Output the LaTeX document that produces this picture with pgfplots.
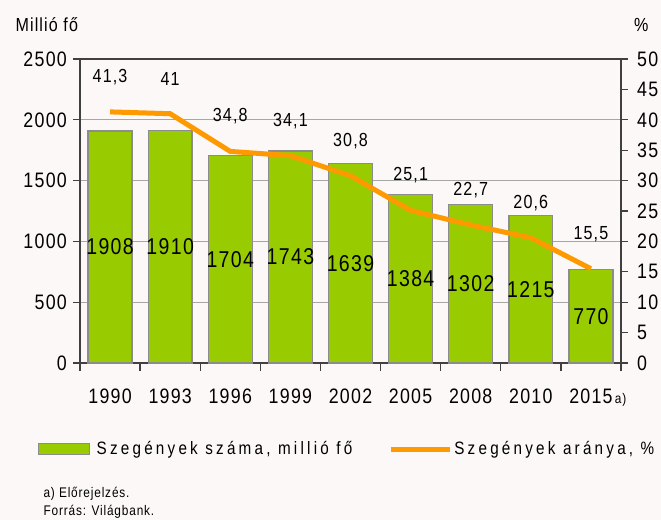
\documentclass[border=0pt]{standalone}
\usepackage{fontspec}
\setmainfont{Liberation Sans}[FakeStretch=0.85, LetterSpace=6]
\newfontfamily\legfont{Liberation Sans}[FakeStretch=0.85, LetterSpace=18]
\usepackage{pgfplots}
\pgfplotsset{compat=1.18}

\definecolor{bg}{HTML}{FBF8F7}
\definecolor{bargreen}{HTML}{99CC00}
\definecolor{lineorange}{HTML}{FF9900}
\definecolor{baredge}{HTML}{8C8C8C}
\definecolor{axisdark}{HTML}{404040}
\definecolor{gridgray}{HTML}{A6A6A6}

\pgfplotsset{
  common/.style={
    at={(0bp,0bp)}, anchor=south west,
    scale only axis, width=541bp, height=304bp,
    xmin=-0.5, xmax=8.5,
    tick align=outside,
    tick style={axisdark, line width=1.3bp},
    /pgf/number format/assume math mode=true,
    /pgf/number format/1000 sep={},
  },
}

\begin{document}
\begin{tikzpicture}
\fill[bg] (-80bp,-157bp) rectangle (581bp,363bp);
\useasboundingbox (-80bp,-157bp) rectangle (581bp,363bp);

% bars: number of poor people, million
\begin{axis}[common,
    ymin=0, ymax=2500,
    ytick={0,500,...,2500},
    xtick={0,...,8},
    xticklabels={1990,1993,1996,1999,2002,2005,2008,2010,{2015\rlap{\fontsize{14}{14}\selectfont\,a)}}},
    minor xtick={-0.5,0.5,...,8.5},
    major x tick style={draw=none},
    xtick pos=bottom, ytick pos=left,
    major tick length=7bp, minor tick length=8bp,
    ymajorgrids, grid style={gridgray, line width=1.3bp},
    axis line style={axisdark, line width=1.6bp},
    xticklabel style={font=\fontsize{21}{24}\selectfont, anchor=base, inner sep=0pt, yshift=-33.5bp},
    yticklabel style={font=\fontsize{21}{24}\selectfont, anchor=east, inner sep=0pt, xshift=-6bp},
]
\addplot[ybar, bar width=0.73, fill=bargreen, draw=baredge, line width=1.3bp,
    nodes near coords,
    visualization depends on=rawy \as \rawy,
    every node near coord/.append style={anchor=center, font=\fontsize{23}{26}\selectfont,
      shift={(axis direction cs:0,-\rawy/2)}},
] coordinates {
(0,1908) (1,1910) (2,1704) (3,1743) (4,1639) (5,1384) (6,1302) (7,1215) (8,770)
};
\end{axis}

% line: share of poor people, %
\begin{axis}[common,
    ymin=0, ymax=50,
    ytick={0,5,...,50},
    axis x line=none, axis y line*=right,
    ytick pos=right,
    major tick length=7bp,
    axis line style={axisdark, line width=1.6bp},
    yticklabel style={font=\fontsize{21}{24}\selectfont, anchor=west, inner sep=0pt, xshift=9bp},
    /pgf/number format/use comma,
    legend columns=2,
    legend style={at={(axis description cs:-0.078,-0.283)}, anchor=west,
      draw=none, fill=none, inner sep=0pt,
      font=\legfont\fontsize{18}{21}\selectfont,
      /tikz/every even column/.append style={column sep=34bp}},
]
\addlegendimage{legend image code/.code={
  \path[draw=none, fill=none] (0bp,-6bp) rectangle (56bp,6bp);
  \filldraw[fill=bargreen, draw=baredge, line width=1.3bp] (0bp,-5.5bp) rectangle (51bp,5.5bp);}}
\addlegendimage{legend image code/.code={
  \path[draw=none, fill=none] (0bp,-6bp) rectangle (59bp,6bp);
  \draw[lineorange, line width=5bp] (0bp,0bp) -- (59bp,0bp);}}
\addplot[lineorange, line width=5bp, no markers,
    nodes near coords,
    every node near coord/.append style={anchor=center, yshift=35bp,
      font=\fontsize{19}{22}\selectfont, text=black},
] coordinates {
(0,41.3) (1,41) (2,34.8) (3,34.1) (4,30.8) (5,25.1) (6,22.7) (7,20.6) (8,15.5)
};
\legend{{Szegények száma, millió fő}, {Szegények aránya, \%}}
\end{axis}

\node[anchor=base west, font=\fontsize{19}{22}\selectfont] at (-68bp,331bp) {Millió fő};
\node[anchor=base east, font=\fontsize{19}{22}\selectfont] at (572bp,331bp) {\%};
\node[anchor=base west, font=\fontsize{14}{17}\selectfont] at (-40bp,-134bp) {a) Előrejelzés.};
\node[anchor=base west, font=\fontsize{14}{17}\selectfont] at (-40bp,-152bp) {Forrás: Világbank.};
\end{tikzpicture}
\end{document}
